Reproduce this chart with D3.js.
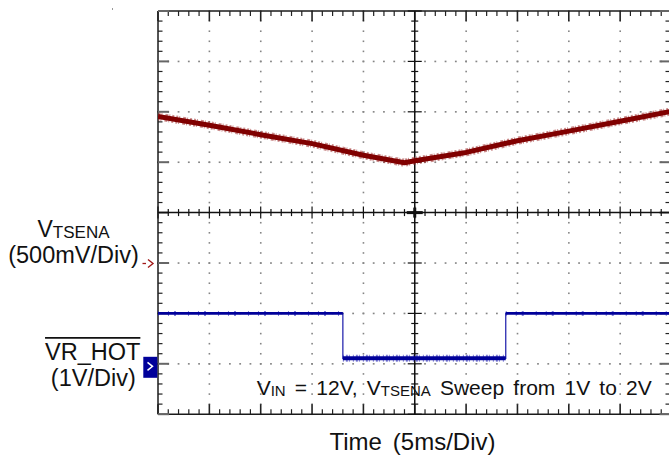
<!DOCTYPE html>
<html>
<head>
<meta charset="utf-8">
<script src="https://cdn.jsdelivr.net/npm/d3@7"></script>
<style>
  html, body { margin: 0; padding: 0; background: #fff; }
  svg { display: block; }
  text { font-family: Arial, "Liberation Sans", Helvetica, sans-serif; fill: #111; }
</style>
</head>
<body>
<svg id="chart" width="669" height="457"></svg>
<script>
// ---- data ----
const timeDomainMs = [-25, 25];            // 5 ms/div, 10 divisions
const redRangeV = [2.5, -1.5];             // VTSENA, 500 mV/div, 8 divisions
const blueRangeV = [7, -1];                // VR_HOT, 1 V/div, 8 divisions

const vtsenaTimeMs = [-25, -20, -15, -10, -5, -1, 0, 5, 10, 15, 20, 25];
const vtsenaVolts  = [1.454, 1.367, 1.273, 1.184, 1.069, 0.995, 1.015, 1.097, 1.213, 1.308, 1.407, 1.505];

const vrhotTimeMs = [-25, -7.0, -7.0, 8.86, 8.86, 25];
const vrhotVolts  = [1.0, 1.0, 0.11, 0.11, 1.0, 1.0];

const divisionsX = 10;
const divisionsY = 8;

// ---- layout ----
const svg = d3.select("#chart");
const plot = { left: 158, right: 671.5, top: 11, bottom: 414.2 };

const x = d3.scaleLinear().domain(timeDomainMs).range([plot.left, plot.right]);
const yDiv = d3.scaleLinear().domain([0, divisionsY]).range([plot.top, plot.bottom]);
const xDiv = d3.scaleLinear().domain([0, divisionsX]).range([plot.left, plot.right]);
const yRed = d3.scaleLinear().domain(redRangeV).range([plot.top, plot.bottom]);
const yBlue = d3.scaleLinear().domain(blueRangeV).range([plot.top, plot.bottom]);

const g = svg.append("g");

const majorX = d3.range(0, divisionsX + 0.001, 1);
const majorY = d3.range(0, divisionsY + 0.001, 1);
const minorX = d3.range(0, divisionsX + 0.001, 0.2);
const minorY = d3.range(0, divisionsY + 0.001, 0.2);
const cx = xDiv(divisionsX / 2), cy = yDiv(divisionsY / 2);

// grid dots
const dots = g.append("g").attr("fill", "#858585");
majorX.filter(d => d > 0 && d < divisionsX && d !== divisionsX / 2).forEach(d => {
  minorY.forEach(m => dots.append("rect").attr("x", xDiv(d) - 0.75).attr("y", yDiv(m) - 0.75).attr("width", 1.6).attr("height", 1.6));
});
majorY.filter(d => d > 0 && d < divisionsY && d !== divisionsY / 2).forEach(d => {
  minorX.forEach(m => dots.append("rect").attr("x", xDiv(m) - 0.9).attr("y", yDiv(d) - 0.75).attr("width", 1.8).attr("height", 1.6));
});

// border lines
const border = g.append("g").attr("stroke", "#1a1a1a").attr("stroke-width", 1.5).attr("fill", "none");
border.append("line").attr("x1", plot.left).attr("x2", plot.right).attr("y1", plot.top).attr("y2", plot.top);
border.append("line").attr("x1", plot.left).attr("x2", plot.right).attr("y1", plot.bottom).attr("y2", plot.bottom);
border.append("line").attr("x1", plot.left).attr("x2", plot.left).attr("y1", plot.top).attr("y2", plot.bottom);

// border ticks
const ticks = g.append("g").attr("fill", "none");
minorX.forEach(m => {
  const isMajor = Math.abs(m - Math.round(m)) < 1e-6;
  const len = isMajor ? 10 : 5;
  ticks.append("line").attr("x1", xDiv(m)).attr("x2", xDiv(m)).attr("y1", plot.top).attr("y2", plot.top + len)
    .attr("stroke", "#222").attr("stroke-width", isMajor ? 1.6 : 1.2);
  ticks.append("line").attr("x1", xDiv(m)).attr("x2", xDiv(m)).attr("y1", plot.bottom).attr("y2", plot.bottom - len)
    .attr("stroke", "#222").attr("stroke-width", isMajor ? 1.6 : 1.2);
});
minorY.forEach(m => {
  const isMajor = Math.abs(m - Math.round(m)) < 1e-6;
  const len = isMajor ? 11 : 4.5;
  ticks.append("line").attr("x1", plot.left).attr("x2", plot.left + len).attr("y1", yDiv(m)).attr("y2", yDiv(m))
    .attr("stroke", isMajor ? "#666" : "#222").attr("stroke-width", isMajor ? 2 : 1.2);
  ticks.append("line").attr("x1", plot.right).attr("x2", plot.right - (isMajor ? 12 : 6)).attr("y1", yDiv(m)).attr("y2", yDiv(m))
    .attr("stroke", isMajor ? "#666" : "#222").attr("stroke-width", isMajor ? 2 : 1.2);
});

// center axes
const axes = g.append("g").attr("stroke", "#111").attr("fill", "none");
axes.append("line").attr("x1", plot.left).attr("x2", plot.right).attr("y1", cy).attr("y2", cy).attr("stroke-width", 1.5);
axes.append("line").attr("x1", cx).attr("x2", cx).attr("y1", plot.top).attr("y2", plot.bottom).attr("stroke-width", 1.5);
minorX.forEach(m => {
  const isMajor = Math.abs(m - Math.round(m)) < 1e-6;
  const h = isMajor ? 6 : 3.5;
  axes.append("line").attr("x1", xDiv(m)).attr("x2", xDiv(m)).attr("y1", cy - h).attr("y2", cy + h).attr("stroke-width", 1.2);
});
minorY.forEach(m => {
  const isMajor = Math.abs(m - Math.round(m)) < 1e-6;
  const h = isMajor ? 7 : 3.5;
  axes.append("line").attr("x1", cx - h).attr("x2", cx + h).attr("y1", yDiv(m)).attr("y2", yDiv(m)).attr("stroke-width", 1.2);
});
axes.append("line").attr("x1", cx - 8).attr("x2", cx + 8).attr("y1", cy).attr("y2", cy).attr("stroke-width", 3);
axes.append("line").attr("x1", cx).attr("x2", cx).attr("y1", cy - 5).attr("y2", cy + 5).attr("stroke-width", 3);

// traces
svg.append("clipPath").attr("id", "plotclip").append("rect")
  .attr("x", plot.left).attr("y", plot.top).attr("width", plot.right - plot.left).attr("height", plot.bottom - plot.top);
const traces = svg.append("g").attr("clip-path", "url(#plotclip)");

const redData = vtsenaTimeMs.map((t, i) => [t, vtsenaVolts[i]]);
const redLine = d3.line().x(d => x(d[0])).y(d => yRed(d[1])).curve(d3.curveLinear);
traces.append("path").attr("d", redLine(redData)).attr("fill", "none")
  .attr("stroke", "#a03030").attr("stroke-opacity", 0.55).attr("stroke-width", 8)
  .attr("stroke-dasharray", "2,1,1,3,3,1,1,2,2,2");
traces.append("path").attr("d", redLine(redData)).attr("fill", "none")
  .attr("stroke", "#800000").attr("stroke-width", 5).attr("stroke-linejoin", "round");

const blueData = vrhotTimeMs.map((t, i) => [t, vrhotVolts[i]]);
const blueLine = d3.line().x(d => x(d[0])).y(d => yBlue(d[1]));
traces.append("path").attr("d", blueLine(blueData)).attr("fill", "none")
  .attr("stroke", "#2a2ab0").attr("stroke-width", 1.3);
for (let i = 0; i < blueData.length - 1; i++) {
  const a = blueData[i], b = blueData[i + 1];
  if (a[1] !== b[1]) continue;
  const low = a[1] < 0.5;
  traces.append("line").attr("x1", x(a[0])).attr("x2", x(b[0])).attr("y1", yBlue(a[1])).attr("y2", yBlue(b[1]))
    .attr("stroke", "#3030c0").attr("stroke-opacity", 0.6).attr("stroke-width", low ? 7 : 5)
    .attr("stroke-dasharray", low ? "1,2,2,1,1,3" : "1,9,1,5,2,12");
  traces.append("line").attr("x1", x(a[0])).attr("x2", x(b[0])).attr("y1", yBlue(a[1])).attr("y2", yBlue(b[1]))
    .attr("stroke", "#00009a").attr("stroke-width", low ? 4 : 2.6);
}

// channel markers
const redMarkY = yRed(0);
svg.append("line").attr("x1", 142.5).attr("x2", 146).attr("y1", redMarkY + 0.5).attr("y2", redMarkY + 0.5)
  .attr("stroke", "#a01818").attr("stroke-width", 1.3);
svg.append("path").attr("d", `M148,${redMarkY - 3.5} L153,${redMarkY + 0.5} L148,${redMarkY + 4.5}`)
  .attr("fill", "none").attr("stroke", "#a01818").attr("stroke-width", 1.4);

const blueMarkY = yBlue(0);
svg.append("rect").attr("x", 143.3).attr("y", blueMarkY - 7).attr("width", 14).attr("height", 21).attr("fill", "#00009a");
svg.append("path").attr("d", `M147.5,${blueMarkY - 1.5} L152.5,${blueMarkY + 2.5} L147.5,${blueMarkY + 6.5}`)
  .attr("fill", "none").attr("stroke", "#fff").attr("stroke-width", 1.5);

// labels
const t1 = svg.append("text").attr("x", 73.5).attr("y", 236.5).attr("text-anchor", "middle").attr("font-size", 23);
t1.append("tspan").text("V");
t1.append("tspan").attr("font-size", 17).attr("dy", 1.5).text("TSENA");

svg.append("text").attr("x", 73.5).attr("y", 262.7).attr("text-anchor", "middle").attr("font-size", 23.5).text("(500mV/Div)");

const vh = svg.append("text").attr("x", 92.7).attr("y", 360.3).attr("text-anchor", "middle").attr("font-size", 23.5).text("VR_HOT");
const bb = vh.node().getBBox();
svg.append("line").attr("x1", bb.x).attr("x2", bb.x + bb.width).attr("y1", 337.8).attr("y2", 337.8)
  .attr("stroke", "#111").attr("stroke-width", 1.8);

svg.append("text").attr("x", 93.3).attr("y", 385.5).attr("text-anchor", "middle").attr("font-size", 23.5).text("(1V/Div)");

// annotation: widen word gaps to fit the span seen in the picture
const ann = svg.append("text").attr("x", 256.7).attr("y", 395).attr("font-size", 21);
ann.append("tspan").text("V");
ann.append("tspan").attr("font-size", 15).attr("dy", 1).text("IN");
ann.append("tspan").attr("dy", -1).text(" = 12V, V");
ann.append("tspan").attr("font-size", 15).attr("dy", 1).text("TSENA");
ann.append("tspan").attr("dy", -1).text(" Sweep from 1V to 2V");
{
  const w = ann.node().getComputedTextLength();
  ann.attr("word-spacing", Math.max(0, (395 - w) / 8));
}

const tl = svg.append("text").attr("x", 329.5).attr("y", 450).attr("font-size", 24).text("Time (5ms/Div)");
{
  const w = tl.node().getComputedTextLength();
  tl.attr("word-spacing", Math.max(0, 166 - w));
}

svg.append("rect").attr("x", 112).attr("y", 8.5).attr("width", 1).attr("height", 1).attr("fill", "#333");
</script>
</body>
</html>
